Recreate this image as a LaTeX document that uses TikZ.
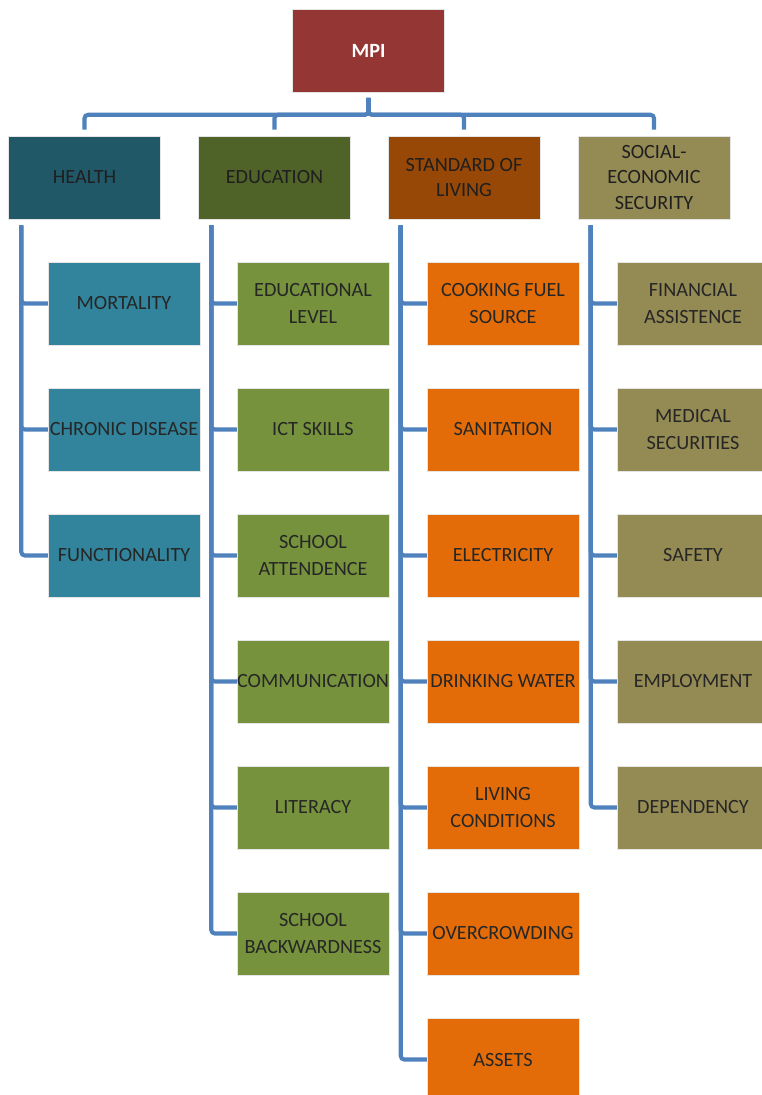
\documentclass[tikz,border=0pt]{standalone}
\usepackage{fontspec}
\setmainfont{Carlito}
\usepackage{tikz}
\usetikzlibrary{positioning}

\definecolor{mpired}{HTML}{943634}
\definecolor{healthtop}{HTML}{215868}
\definecolor{healthsub}{HTML}{31849B}
\definecolor{edutop}{HTML}{4F6228}
\definecolor{edusub}{HTML}{76923C}
\definecolor{livtop}{HTML}{974806}
\definecolor{livsub}{HTML}{E36C09}
\definecolor{socsub}{HTML}{948A54}
\definecolor{linkblue}{HTML}{4F81BD}

\begin{document}
\begin{tikzpicture}[x=0.02cm, y=-0.02cm]
    \tikzstyle{headcase}=[draw=black!10, line width=0.3pt, minimum height=1.66cm, minimum width=3.04cm, inner sep=0pt, align=center, text=black!88, font=\fontsize{11.5}{14.5}\selectfont];
    \tikzstyle{itemcase}=[headcase, text=black!85, font=\fontsize{11.5}{15}\selectfont];
    \tikzstyle{link}=[draw=linkblue, line width=2.3pt, rounded corners=2pt];

    \useasboundingbox (0,0) rectangle (761,1095);

    \node[headcase, fill=mpired, text=white, font=\fontsize{11.5}{15}\selectfont\bfseries] (mpi) at (368.5,51) {MPI};

    \node[headcase, fill=healthtop] (health) at (84.5,177.5) {HEALTH};
    \node[headcase, fill=edutop] (education) at (274.5,177.5) {EDUCATION};
    \node[headcase, fill=livtop] (living) at (464,177.5) {STANDARD OF\\LIVING};
    \node[headcase, fill=socsub] (social) at (654,177.5) {SOCIAL-\\ECONOMIC\\SECURITY};

    % MPI to the four groups
    \foreach \grp in {health,education,living,social} {
        \draw[link] ([yshift=-0.1cm]mpi.south) -- ++(0,17) -| ([yshift=0.12cm]\grp.north);
    }

    % health
    \foreach \txt [count=\i] in {MORTALITY, CHRONIC DISEASE, FUNCTIONALITY} {
        \node[itemcase, fill=healthsub] (h\i) at (124,{177.5+126*\i}) {\txt};
        \draw[link] ([xshift=0.26cm,yshift=-0.12cm]health.south west) |- (h\i.west);
    }

    % education
    \foreach \txt [count=\i] in {{EDUCATIONAL\\LEVEL}, ICT SKILLS, {SCHOOL\\ATTENDENCE}, COMMUNICATION, LITERACY, {SCHOOL\\BACKWARDNESS}} {
        \node[itemcase, fill=edusub] (e\i) at (313,{177.5+126*\i}) {\txt};
        \draw[link] ([xshift=0.26cm,yshift=-0.12cm]education.south west) |- (e\i.west);
    }

    % standard of living
    \foreach \txt [count=\i] in {{COOKING FUEL\\SOURCE}, SANITATION, ELECTRICITY, DRINKING WATER, {LIVING\\CONDITIONS}, OVERCROWDING, ASSETS} {
        \node[itemcase, fill=livsub] (s\i) at (503,{177.5+126*\i}) {\txt};
        \draw[link] ([xshift=0.26cm,yshift=-0.12cm]living.south west) |- (s\i.west);
    }

    % social-economic security
    \foreach \txt [count=\i] in {{FINANCIAL\\ASSISTENCE}, {MEDICAL\\SECURITIES}, SAFETY, EMPLOYMENT, DEPENDENCY} {
        \node[itemcase, fill=socsub] (c\i) at (693,{177.5+126*\i}) {\txt};
        \draw[link] ([xshift=0.26cm,yshift=-0.12cm]social.south west) |- (c\i.west);
    }
\end{tikzpicture}
\end{document}
